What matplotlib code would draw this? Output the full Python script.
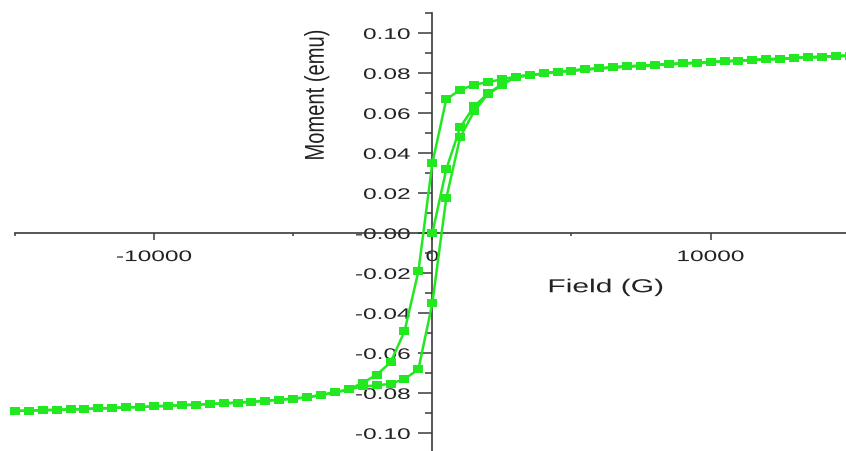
import matplotlib
matplotlib.use('Agg')
import matplotlib.pyplot as plt
from matplotlib.ticker import MultipleLocator, FixedLocator, FormatStrFormatter
from matplotlib.patheffects import AbstractPathEffect
from matplotlib.transforms import Affine2D

plt.rcParams['font.family'] = ['Liberation Sans', 'DejaVu Sans']
plt.rcParams['axes.unicode_minus'] = False

# field grid near zero (G)
core_field = [-2500, -2000, -1500, -1000, -500, 0, 500, 1000, 1500, 2000, 2500]
# saturation tails, shared by all branches
tail_field_pos = [3000, 3500, 4000, 4500, 5000, 5500, 6000, 6500, 7000, 7500, 8000, 8500, 9000,
                  9500, 10000, 10500, 11000, 11500, 12000, 12500, 13000, 13500, 14000, 14500, 15000]
tail_m_pos = [0.0784, 0.0790, 0.0800, 0.0808, 0.0814, 0.0820, 0.0825, 0.0830, 0.0835, 0.0838,
              0.0842, 0.0846, 0.0850, 0.0853, 0.0857, 0.0860, 0.0864, 0.0867, 0.0870, 0.0873,
              0.0877, 0.0880, 0.0883, 0.0886, 0.0889]
tail_field_neg = [-15000, -14500, -14000, -13500, -13000, -12500, -12000, -11500, -11000, -10500,
                  -10000, -9500, -9000, -8500, -8000, -7500, -7000, -6500, -6000, -5500, -5000,
                  -4500, -4000, -3500, -3000]
tail_m_neg = [-0.0888, -0.0886, -0.0884, -0.0882, -0.0880, -0.0878, -0.0875, -0.0873, -0.0870,
              -0.0868, -0.0865, -0.0862, -0.0859, -0.0856, -0.0853, -0.0850, -0.0846, -0.0842,
              -0.0837, -0.0832, -0.0826, -0.0820, -0.0808, -0.0795, -0.0780]

# branch values on core_field
upper_core = [-0.0747, -0.0707, -0.0645, -0.0490, -0.0190, 0.0350, 0.0670, 0.0718, 0.0743, 0.0757, 0.0770]
lower_core = [-0.0765, -0.0760, -0.0752, -0.0728, -0.0680, -0.0350, 0.0175, 0.0480, 0.0610, 0.0697, 0.0740]
virgin_field = [0, 500, 1000, 1500, 2000, 2500]
virgin_core = [0.0000, 0.0320, 0.0530, 0.0635, 0.0700, 0.0745]

green = '#22E822'
ink = '#222222'
axis_col = '#3a3a3a'


class Stretch(AbstractPathEffect):
    # widen glyphs around an anchor (the original picture is stretched sideways)
    def __init__(self, sx=1.0, sy=1.0, fx=0.5):
        super().__init__()
        self.sx, self.sy, self.fx = sx, sy, fx

    def draw_path(self, renderer, gc, tpath, affine, rgbFace=None):
        ext = tpath.get_extents()
        cx = ext.x0 + self.fx * ext.width
        cy = (ext.y0 + ext.y1) / 2
        t = Affine2D().translate(-cx, -cy).scale(self.sx, self.sy).translate(cx, cy)
        renderer.draw_path(gc, tpath, t + affine, rgbFace)


fig = plt.figure(figsize=(8.46, 4.51), dpi=100, facecolor='white')
ax = fig.add_axes([0, 0, 1, 1])

rect = [(-0.65, -0.5), (0.65, -0.5), (0.65, 0.5), (-0.65, 0.5), (-0.65, -0.5)]
branches = [
    (virgin_field + tail_field_pos, virgin_core + tail_m_pos),
    (tail_field_neg + core_field + tail_field_pos, tail_m_neg + upper_core + tail_m_pos),
    (tail_field_neg + core_field + tail_field_pos, tail_m_neg + lower_core + tail_m_pos),
]
for fx, my in branches:
    ax.plot(fx, my, color=green, linewidth=1.8, marker=rect, markersize=7,
            markeredgewidth=0, zorder=3)

ax.set_xlim(-15534, 14865)
ax.set_ylim(-0.1088, 0.1167)

for side in ['top', 'right']:
    ax.spines[side].set_visible(False)
ax.spines['left'].set_position(('data', 0))
ax.spines['bottom'].set_position(('data', 0))
ax.spines['left'].set_bounds(-0.11, 0.11)
ax.spines['bottom'].set_bounds(-15000, 15000)
for side in ['left', 'bottom']:
    ax.spines[side].set_color(axis_col)
    ax.spines[side].set_linewidth(1.2)

ax.xaxis.set_major_locator(FixedLocator([-10000, 0, 10000]))
ax.xaxis.set_minor_locator(FixedLocator([-15000, -5000, 5000, 15000]))
ax.yaxis.set_major_locator(MultipleLocator(0.02))
ax.yaxis.set_minor_locator(MultipleLocator(0.01))
ax.yaxis.set_major_formatter(FormatStrFormatter('%.2f'))

ax.tick_params(axis='x', which='major', direction='out', length=5, width=1.1,
               color=axis_col, labelsize=11, labelcolor=ink, pad=7)
ax.tick_params(axis='x', which='minor', direction='out', length=2.5, width=1.1, color=axis_col)
ax.tick_params(axis='y', which='major', direction='out', length=10, width=1.1,
               color=axis_col, labelsize=11, labelcolor=ink, pad=6)
ax.tick_params(axis='y', which='minor', direction='out', length=5, width=1.1, color=axis_col)

ax.text(0.374, 0.789, 'Moment (emu)', transform=ax.transAxes, rotation=90,
        ha='center', va='center', fontsize=14.5, color=ink,
        path_effects=[Stretch(sy=1.35)])
ax.text(0.716, 0.362, 'Field (G)', transform=ax.transAxes, ha='center', va='center',
        fontsize=13.5, color=ink, path_effects=[Stretch(sx=1.6)])

fig.canvas.draw()
for lbl in ax.get_xticklabels():
    lbl.set_path_effects([Stretch(sx=1.6, fx=0.5)])
for lbl in ax.get_yticklabels():
    lbl.set_path_effects([Stretch(sx=1.6, fx=1.0)])

fig.savefig('out.png', dpi=100, facecolor='white')
